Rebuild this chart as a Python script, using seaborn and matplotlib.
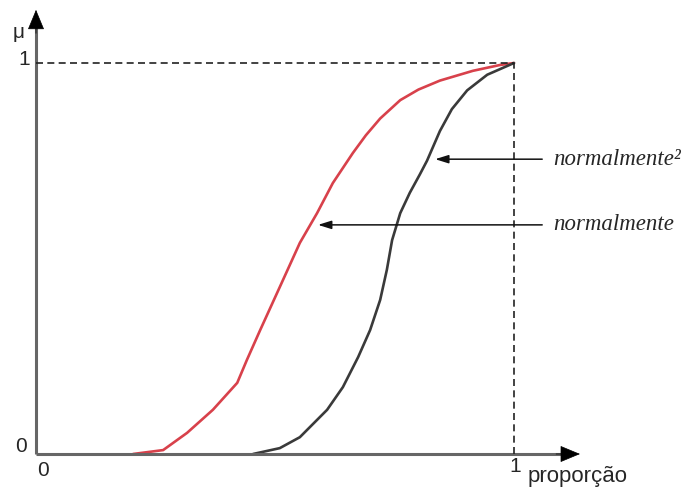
import matplotlib
matplotlib.use("Agg")
import matplotlib.pyplot as plt
import seaborn as sns
import pandas as pd

sns.set_style("white")
plt.rcParams["font.family"] = ["Liberation Sans", "DejaVu Sans"]

# membership curve "normalmente"
prop_normal = [0.203, 0.266, 0.316, 0.370, 0.421, 0.441, 0.469, 0.510, 0.552,
               0.588, 0.621, 0.663, 0.690, 0.720, 0.762, 0.800, 0.845, 0.914, 0.971, 1.000]
mu_normal = [0.000, 0.010, 0.054, 0.113, 0.182, 0.240, 0.317, 0.427, 0.540,
             0.616, 0.693, 0.770, 0.815, 0.858, 0.905, 0.932, 0.955, 0.980, 0.995, 1.000]

# membership curve "normalmente²"
prop_normal2 = [0.454, 0.510, 0.552, 0.609, 0.642, 0.674, 0.699, 0.720, 0.734,
                0.745, 0.762, 0.782, 0.803, 0.818, 0.845, 0.870, 0.902, 0.944, 1.000]
mu_normal2 = [0.000, 0.015, 0.043, 0.113, 0.171, 0.248, 0.317, 0.394, 0.471,
              0.547, 0.616, 0.668, 0.715, 0.750, 0.826, 0.882, 0.930, 0.970, 1.000]

curve_labels = ["normalmente²", "normalmente"]
label_y = [0.754, 0.586]
arrow_tip_x = [0.835, 0.590]

df = pd.concat([
    pd.DataFrame({"proporção": prop_normal, "mu": mu_normal, "curva": "normalmente"}),
    pd.DataFrame({"proporção": prop_normal2, "mu": mu_normal2, "curva": "normalmente²"}),
])

fig = plt.figure(figsize=(6.88, 4.91), dpi=100)
W, H = 688, 491
x0, y0 = 36, 454
sx, sy = 478, 391
xmax, ymax = 1.20, 1.15
ax = fig.add_axes([x0 / W, (H - y0) / H, sx * xmax / W, sy * ymax / H])

sns.lineplot(data=df, x="proporção", y="mu", hue="curva", sort=False,
             palette={"normalmente": "#d8414b", "normalmente²": "#3a3a3a"},
             linewidth=1.9, legend=False, ax=ax, estimator=None)

ax.set_xlim(0, xmax)
ax.set_ylim(0, ymax)
for s in ax.spines.values():
    s.set_visible(False)
ax.set_xticks([])
ax.set_yticks([])
ax.set_xlabel("")
ax.set_ylabel("")

# axis lines in grey with solid black arrowheads
x_tip, y_tip = 1.138, 1.136
ax.plot([0, x_tip - 0.02], [0, 0], color="#666666", lw=2.2, clip_on=False,
        solid_capstyle="butt")
ax.plot([0, 0], [0, y_tip - 0.02], color="#666666", lw=2.2, clip_on=False,
        solid_capstyle="butt")
head_kw = dict(arrowstyle="-|>,head_length=0.65,head_width=0.27", color="black",
               lw=0.5, shrinkA=0, shrinkB=0, mutation_scale=20)
ax.annotate("", xy=(x_tip, 0), xytext=(x_tip - 0.05, 0), arrowprops=head_kw,
            annotation_clip=False)
ax.annotate("", xy=(0, y_tip), xytext=(0, y_tip - 0.06), arrowprops=head_kw,
            annotation_clip=False)

# reference lines at full membership / full proportion
ax.plot([0, 1], [1, 1], ls=(0, (4.2, 2.6)), color="#222222", lw=1.2, clip_on=False)
ax.plot([1, 1], [0, 1], ls=(0, (4.2, 2.6)), color="#222222", lw=1.2, clip_on=False)

fs = 15
ax.text(-0.036, 1.077, "μ", fontsize=fs, ha="center", va="center", clip_on=False)
ax.text(-0.025, 1.008, "1", fontsize=fs, ha="center", va="center", clip_on=False)
ax.text(-0.031, 0.018, "0", fontsize=fs, ha="center", va="center", clip_on=False)
ax.text(0.015, -0.041, "0", fontsize=fs, ha="center", va="center", clip_on=False)
ax.text(1.002, -0.033, "1", fontsize=fs, ha="center", va="center", clip_on=False)
ax.text(1.029, -0.058, "proporção", fontsize=16, ha="left", va="center", clip_on=False)

# curve labels with pointer arrows
for lab, ly, tx in zip(curve_labels, label_y, arrow_tip_x):
    ax.annotate("", xy=(tx, ly), xytext=(1.059, ly),
                arrowprops=dict(arrowstyle="-|>,head_length=0.8,head_width=0.25",
                                color="#111111", lw=1.1, shrinkA=0, shrinkB=0),
                annotation_clip=False)
    ax.text(1.082, ly, lab, fontsize=16.5, style="italic",
            family=["Liberation Serif", "DejaVu Serif"],
            ha="left", va="center", clip_on=False)

fig.savefig("out.png", dpi=100)
